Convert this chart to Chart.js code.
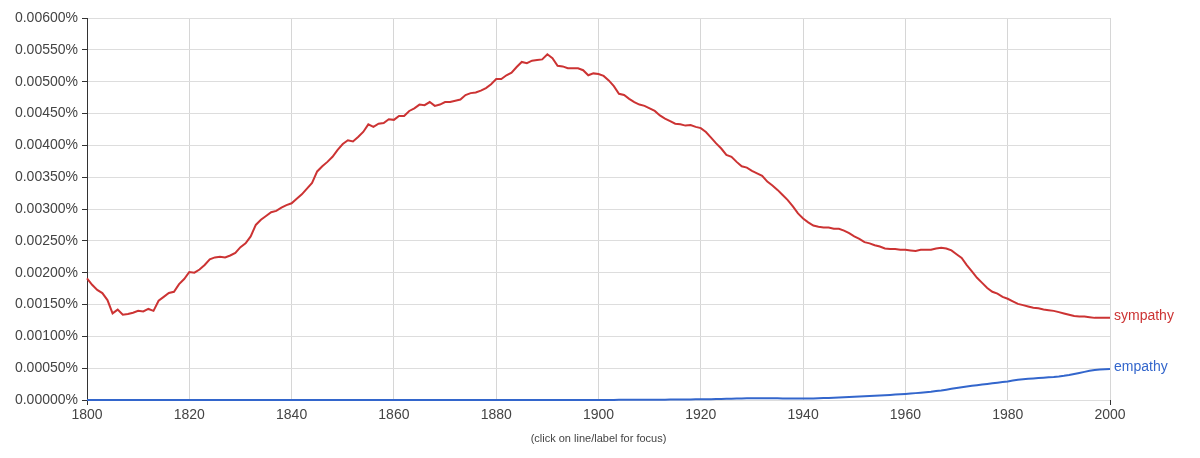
<!DOCTYPE html>
<html>
<head>
<meta charset="utf-8">
<title>sympathy, empathy</title>
<script src="https://cdn.jsdelivr.net/npm/chart.js@4/dist/chart.umd.min.js"></script>
<style>
  html, body { margin: 0; padding: 0; background: #fff; }
  #wrap { position: relative; width: 1200px; height: 458px; }
</style>
</head>
<body>
<div id="wrap"><canvas id="ngramChart" width="1200" height="458"></canvas></div>
<script>
// years on the x axis
const firstYear = 1800;
const lastYear = 2000;
const yearTicks = [1800, 1820, 1840, 1860, 1880, 1900, 1920, 1940, 1960, 1980, 2000];
const seriesNames = ['sympathy', 'empathy'];

// percent of all words, one value per year 1800..2000
const sympathy = [
	0.00191,0.00181,0.00173,0.00168,0.00157,0.00136,0.00142,0.00134,0.00135,0.00137,
	0.00140,0.00139,0.00143,0.00140,0.00156,0.00162,0.00168,0.00170,0.00182,0.00190,
	0.00201,0.00200,0.00205,0.00212,0.00221,0.00224,0.00225,0.00224,0.00227,0.00231,
	0.00240,0.00246,0.00257,0.00275,0.00283,0.00289,0.00295,0.00297,0.00302,0.00306,
	0.00309,0.00316,0.00323,0.00332,0.00341,0.00359,0.00367,0.00374,0.00382,0.00393,
	0.00402,0.00408,0.00406,0.00413,0.00421,0.00433,0.00429,0.00434,0.00435,0.00441,
	0.00440,0.00446,0.00446,0.00454,0.00458,0.00464,0.00463,0.00468,0.00462,0.00464,
	0.00468,0.00468,0.00470,0.00472,0.00479,0.00482,0.00483,0.00486,0.00490,0.00496,
	0.00504,0.00504,0.00510,0.00514,0.00523,0.00531,0.00529,0.00533,0.00534,0.00535,
	0.00543,0.00537,0.00525,0.00524,0.00521,0.00521,0.00521,0.00518,0.00510,0.00513,
	0.00512,0.00509,0.00502,0.00493,0.00481,0.00479,0.00473,0.00468,0.00464,0.00462,
	0.00458,0.00454,0.00447,0.00442,0.00438,0.00434,0.00433,0.00431,0.00432,0.00429,
	0.00427,0.00421,0.00412,0.00403,0.00395,0.00385,0.00382,0.00374,0.00367,0.00365,
	0.00360,0.00356,0.00352,0.00343,0.00337,0.00330,0.00322,0.00314,0.00304,0.00293,
	0.00285,0.00279,0.00274,0.00272,0.00271,0.00271,0.00269,0.00269,0.00266,0.00262,
	0.00257,0.00253,0.00248,0.00246,0.00243,0.00241,0.00238,0.00237,0.00237,0.00236,
	0.00236,0.00235,0.00234,0.00236,0.00236,0.00236,0.00238,0.00239,0.00238,0.00235,
	0.00229,0.00223,0.00212,0.00202,0.00192,0.00184,0.00176,0.00170,0.00167,0.00162,
	0.00159,0.00155,0.00151,0.00149,0.00147,0.00145,0.00144,0.00142,0.00141,0.00140,
	0.00138,0.00136,0.00134,0.00132,0.00131,0.00131,0.00130,0.00129,0.00129,0.00129,
	0.00129
];

const empathy = [
	0,0,0,0,0,0,0,0,0,0,
	0,0,0,0,0,0,0,0,0,0,
	0,0,0,0,0,0,0,0,0,0,
	0,0,0,0,0,0,0,0,0,0,
	0,0,0,0,0,0,0,0,0,0,
	0,0,0,0,0,0,0,0,0,0,
	0,0,0,0,0,0,0,0,0,0,
	0,0,0,0,0,0,0,0,0,0,
	0,0,0,0,0,0,0,0,0,0,
	0,0,0,0,0,0,0,0,0,0,
	0.000001,0.000001,0.000001,0.000001,0.000002,0.000002,0.000002,0.000003,0.000003,0.000003,
	0.000004,0.000004,0.000005,0.000005,0.000006,0.000006,0.000007,0.000008,0.000009,0.000010,
	0.000011,0.000012,0.000013,0.000015,0.000017,0.000019,0.000021,0.000023,0.000025,0.000027,
	0.000028,0.000029,0.000029,0.000028,0.000027,0.000026,0.000025,0.000024,0.000023,0.000022,
	0.000022,0.000023,0.000025,0.000027,0.000030,0.000033,0.000036,0.000040,0.000044,0.000048,
	0.000052,0.000056,0.000060,0.000064,0.000068,0.000072,0.000076,0.000080,0.000085,0.000090,
	0.000096,0.000102,0.000108,0.000115,0.000122,0.000130,0.000140,0.000150,0.000162,0.000175,
	0.000188,0.000200,0.000212,0.000222,0.000232,0.000242,0.000252,0.000262,0.000272,0.000282,
	0.000292,0.000305,0.000318,0.000326,0.000332,0.000338,0.000344,0.000350,0.000356,0.000362,
	0.000370,0.000380,0.000392,0.000408,0.000425,0.000442,0.000458,0.000470,0.000478,0.000484,
	0.000488
];

const RED = '#cc3333';
const BLUE = '#3366cc';
const FONT = 'Arial, "Liberation Sans", sans-serif';

function toPoints(values){
	return values.map((v, i) => ({ x: firstYear + i, y: v }));
}

// draws the series name right after the end of each line, and the caption
const endLabels = {
	id: 'endLabels',
	afterDraw(chart){
		const ctx = chart.ctx;
		const xs = chart.scales.x, ys = chart.scales.y;
		ctx.save();
		ctx.font = '14px ' + FONT;
		ctx.textAlign = 'left';
		ctx.textBaseline = 'middle';
		chart.data.datasets.forEach(ds => {
			const last = ds.data[ds.data.length - 1];
			ctx.fillStyle = ds.borderColor;
			ctx.fillText(ds.label, xs.getPixelForValue(last.x) + 4, ys.getPixelForValue(last.y) - 2);
		});
		ctx.font = '11px ' + FONT;
		ctx.fillStyle = '#444';
		ctx.textAlign = 'center';
		ctx.fillText('(click on line/label for focus)', (chart.chartArea.left + chart.chartArea.right) / 2, 439);
		ctx.restore();
	}
};

new Chart(document.getElementById('ngramChart').getContext('2d'), {
	type: 'line',
	data: {
		datasets: [
			{ label: seriesNames[0], data: toPoints(sympathy), borderColor: RED, borderWidth: 2, pointRadius: 0, tension: 0, fill: false, clip: false },
			{ label: seriesNames[1], data: toPoints(empathy), borderColor: BLUE, borderWidth: 2, pointRadius: 0, tension: 0, fill: false, clip: false }
		]
	},
	options: {
		responsive: false,
		animation: false,
		events: [],
		layout: { padding: { top: 18, right: 90, left: 0, bottom: 0 } },
		plugins: { legend: { display: false }, tooltip: { enabled: false } },
		scales: {
			x: {
				type: 'linear',
				min: firstYear,
				max: lastYear,
				afterBuildTicks: function(scale){ scale.ticks = yearTicks.map(v => ({ value: v })); },
				afterFit: function(scale){ scale.height = 58; },
				ticks: { color: '#444', font: { family: FONT, size: 14 }, padding: 2, callback: v => String(v) },
				grid: {
					color: '#d6d6d6',
					tickLength: 5,
					tickColor: c => (c.tick && (c.tick.value === firstYear || c.tick.value === lastYear)) ? '#333' : 'rgba(0,0,0,0)'
				},
				border: { color: '#333', width: 1, z: -1 }
			},
			y: {
				min: 0,
				max: 0.006,
				afterFit: function(scale){ scale.width = 87; },
				ticks: { stepSize: 0.0005, color: '#444', font: { family: FONT, size: 14 }, padding: 4, callback: v => v.toFixed(5) + '%' },
				grid: { color: '#dddddd', tickLength: 5, tickColor: '#333' },
				border: { color: '#333', width: 1, z: -1 }
			}
		}
	},
	plugins: [endLabels]
});
</script>
</body>
</html>
